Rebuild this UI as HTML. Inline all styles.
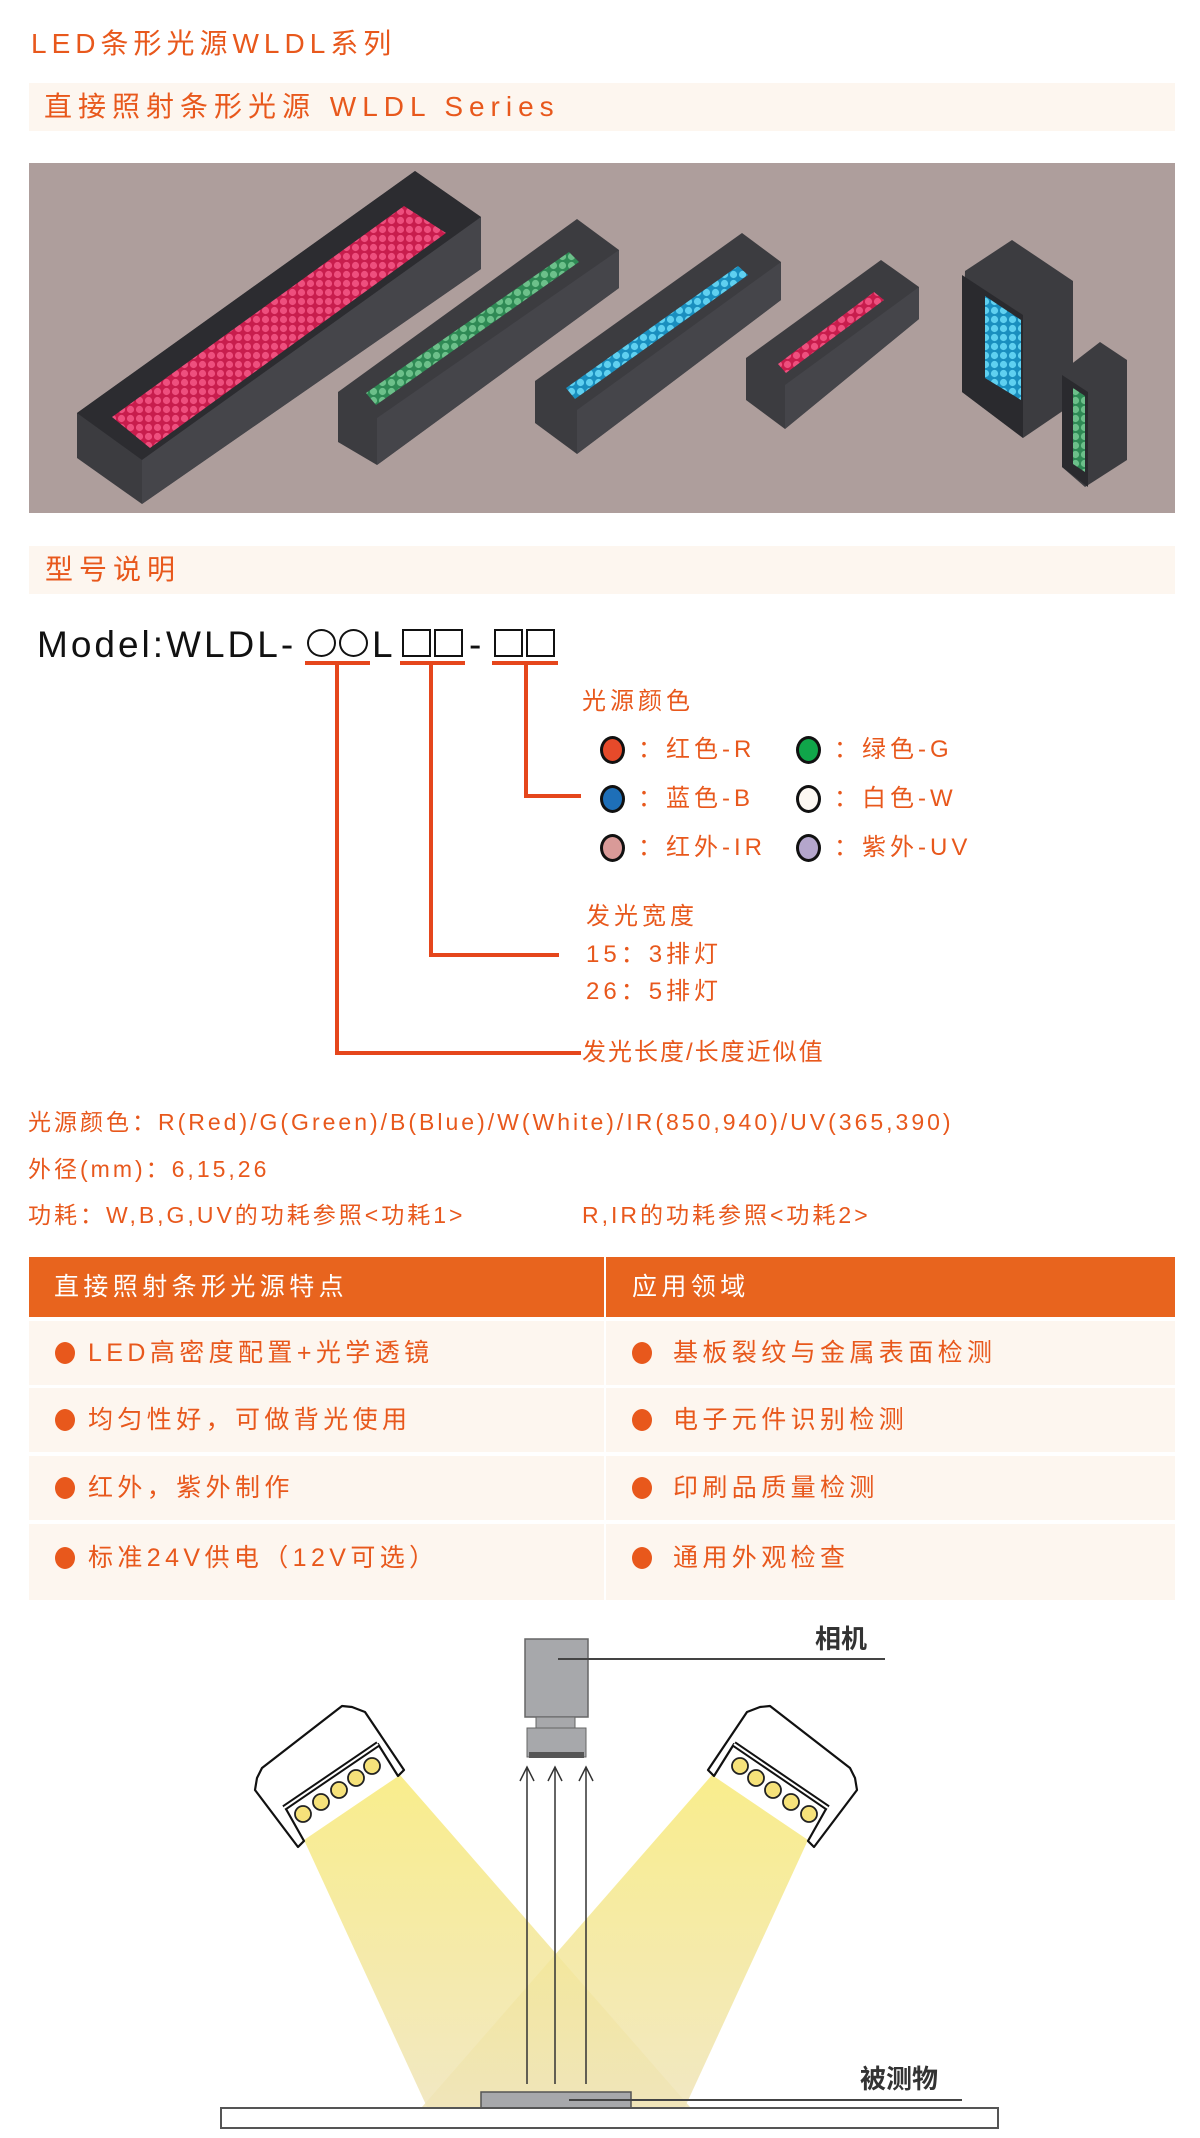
<!DOCTYPE html>
<html><head><meta charset="utf-8">
<style>
*{margin:0;padding:0;box-sizing:border-box}
body{width:1200px;height:2138px;background:#fff;position:relative;overflow:hidden;font-family:"Liberation Sans","Noto Sans CJK SC",sans-serif;color:#e8581c}
.a{position:absolute;white-space:nowrap}
.band{position:absolute;left:29px;width:1146px;background:#fdf6ef}
.bt{font-size:28px;letter-spacing:6px;line-height:1}
.dot{position:absolute;width:25px;height:28px;border:3px solid #111;border-radius:50%}
.lg{font-size:24px;letter-spacing:4px;line-height:1}
.sp{font-size:23px;letter-spacing:3px;line-height:1}
.row{position:absolute;background:#fdf6ef;height:64px}
.tt{font-size:25px;letter-spacing:4.4px;line-height:1}
.bul{position:absolute;width:20px;height:22px;border-radius:50%;background:#e8581c}
.rl{position:absolute;background:#e5461c}
.sh{position:absolute;border:2.5px solid #111;width:29px;height:28px;top:629px}
</style></head><body>

<div class="a" style="left:31px;top:30px;font-size:28px;letter-spacing:5px;line-height:1">LED条形光源WLDL系列</div>

<div class="band" style="top:83px;height:48px"></div>
<div class="a bt" style="left:44px;top:93px">直接照射条形光源 WLDL Series</div>

<svg class="a" style="left:29px;top:163px" width="1146" height="350" viewBox="29 163 1146 350">
<defs>
<pattern id="pr" width="9" height="9" patternUnits="userSpaceOnUse"><rect width="9" height="9" fill="#c81d4d"/><circle cx="4.5" cy="4.5" r="3.6" fill="#ee4f7e"/></pattern>
<pattern id="pg" width="9" height="9" patternUnits="userSpaceOnUse"><rect width="9" height="9" fill="#2f8a55"/><circle cx="4.5" cy="4.5" r="3.6" fill="#6cc08a"/></pattern>
<pattern id="pb" width="9" height="9" patternUnits="userSpaceOnUse"><rect width="9" height="9" fill="#1a8fbf"/><circle cx="4.5" cy="4.5" r="3.6" fill="#5fd0f0"/></pattern>
</defs>
<rect x="29" y="163" width="1146" height="350" fill="#ae9e9c"/>
<polygon points="77,413 415,171 481,217 481,269 142,504 77,458" fill="#3c3c40"/>
<polygon points="77,413 415,171 481,217 142,460" fill="#2c2c30"/>
<polygon points="112,417 404,206 446,233 150,448" fill="url(#pr)"/>
<polygon points="142,460 481,217 481,269 142,504" fill="#45454a"/>
<polygon points="338,392 577,219 619,250 619,288 377,465 338,442" fill="#3c3c40"/>
<polygon points="377,418 619,250 619,288 377,465" fill="#45454a"/>
<polygon points="366,393 569,252 579,262 376,405" fill="url(#pg)"/>
<polygon points="535,381 742,233 781,262 781,300 577,454 535,423" fill="#3c3c40"/>
<polygon points="577,410 781,262 781,300 577,454" fill="#45454a"/>
<polygon points="566,388 738,266 748,275 575,399" fill="url(#pb)"/>
<polygon points="746,358 881,260 919,287 919,319 785,429 746,400" fill="#3c3c40"/>
<polygon points="785,385 919,287 919,319 785,429" fill="#45454a"/>
<polygon points="778,364 874,292 884,300 786,373" fill="url(#pr)"/>
<polygon points="965,271 1012,240 1073,281 1073,404 1023,438 962,392" fill="#3c3c40"/>
<polygon points="962,275 1023,315 1023,438 962,392" fill="#2a2a2e"/>
<polygon points="985,296 1021,320 1021,400 985,378" fill="url(#pb)"/>
<polygon points="1065,369 1100,342 1127,360 1127,460 1085,487 1062,467" fill="#3c3c40"/>
<polygon points="1062,375 1088,392 1088,487 1062,467" fill="#2a2a2e"/>
<polygon points="1073,388 1085,396 1085,472 1073,464" fill="url(#pg)"/>
</svg>

<div class="band" style="top:546px;height:48px"></div>
<div class="a bt" style="left:45px;top:556px">型号说明</div>

<div class="a" style="left:37px;top:626px;font-size:37px;letter-spacing:3px;line-height:1;color:#111">Model:WLDL-</div>
<div class="sh" style="left:307px;border-radius:50%"></div>
<div class="sh" style="left:339px;border-radius:50%"></div>
<div class="a" style="left:372px;top:626px;font-size:37px;line-height:1;color:#111">L</div>
<div class="sh" style="left:402px"></div>
<div class="sh" style="left:434px"></div>
<div class="a" style="left:469px;top:626px;font-size:37px;line-height:1;color:#111">-</div>
<div class="sh" style="left:494px"></div>
<div class="sh" style="left:526px"></div>

<div class="rl" style="left:305px;top:661px;width:65px;height:4px"></div>
<div class="rl" style="left:400px;top:661px;width:65px;height:4px"></div>
<div class="rl" style="left:492px;top:661px;width:66px;height:4px"></div>
<div class="rl" style="left:524px;top:661px;width:4px;height:137px"></div>
<div class="rl" style="left:524px;top:794px;width:57px;height:4px"></div>
<div class="rl" style="left:429px;top:661px;width:4px;height:296px"></div>
<div class="rl" style="left:429px;top:953px;width:130px;height:4px"></div>
<div class="rl" style="left:335px;top:661px;width:4px;height:394px"></div>
<div class="rl" style="left:335px;top:1051px;width:246px;height:4px"></div>

<div class="a lg" style="left:582px;top:690px">光源颜色</div>
<div class="dot" style="left:600px;top:736px;background:#e64a2a"></div>
<div class="a lg" style="left:638px;top:738px">：红色-R</div>
<div class="dot" style="left:796px;top:736px;background:#10a64a"></div>
<div class="a lg" style="left:834px;top:738px">：绿色-G</div>
<div class="dot" style="left:600px;top:785px;background:#1e6fb8"></div>
<div class="a lg" style="left:638px;top:787px">：蓝色-B</div>
<div class="dot" style="left:796px;top:785px;background:#fdf8f2"></div>
<div class="a lg" style="left:834px;top:787px">：白色-W</div>
<div class="dot" style="left:600px;top:834px;background:#d99a98"></div>
<div class="a lg" style="left:638px;top:836px">：红外-IR</div>
<div class="dot" style="left:796px;top:834px;background:#b4a6cc"></div>
<div class="a lg" style="left:834px;top:836px">：紫外-UV</div>

<div class="a lg" style="left:586px;top:905px">发光宽度</div>
<div class="a lg" style="left:586px;top:943px">15：3排灯</div>
<div class="a lg" style="left:586px;top:980px">26：5排灯</div>
<div class="a lg" style="left:582px;top:1041px;letter-spacing:2px">发光长度/长度近似值</div>

<div class="a sp" style="left:28px;top:1111px">光源颜色：R(Red)/G(Green)/B(Blue)/W(White)/IR(850,940)/UV(365,390)</div>
<div class="a sp" style="left:28px;top:1158px">外径(mm)：6,15,26</div>
<div class="a sp" style="left:28px;top:1204px">功耗：W,B,G,UV的功耗参照&lt;功耗1&gt;</div>
<div class="a sp" style="left:582px;top:1204px">R,IR的功耗参照&lt;功耗2&gt;</div>

<div class="a" style="left:29px;top:1257px;width:575px;height:60px;background:#e8641e"></div>
<div class="a" style="left:606px;top:1257px;width:569px;height:60px;background:#e8641e"></div>
<div class="a tt" style="left:54px;top:1275px;color:#fff">直接照射条形光源特点</div>
<div class="a tt" style="left:632px;top:1275px;color:#fff">应用领域</div>

<div class="row" style="left:29px;top:1321px;width:575px"></div>
<div class="row" style="left:606px;top:1321px;width:569px"></div>
<div class="row" style="left:29px;top:1388px;width:575px"></div>
<div class="row" style="left:606px;top:1388px;width:569px"></div>
<div class="row" style="left:29px;top:1456px;width:575px"></div>
<div class="row" style="left:606px;top:1456px;width:569px"></div>
<div class="row" style="left:29px;top:1524px;width:575px;height:76px"></div>
<div class="row" style="left:606px;top:1524px;width:569px;height:76px"></div>

<div class="bul" style="left:55px;top:1342px"></div><div class="a tt" style="left:88px;top:1341px">LED高密度配置+光学透镜</div>
<div class="bul" style="left:632px;top:1342px"></div><div class="a tt" style="left:673px;top:1341px">基板裂纹与金属表面检测</div>
<div class="bul" style="left:55px;top:1409px"></div><div class="a tt" style="left:88px;top:1408px">均匀性好，可做背光使用</div>
<div class="bul" style="left:632px;top:1409px"></div><div class="a tt" style="left:673px;top:1408px">电子元件识别检测</div>
<div class="bul" style="left:55px;top:1477px"></div><div class="a tt" style="left:88px;top:1476px">红外，紫外制作</div>
<div class="bul" style="left:632px;top:1477px"></div><div class="a tt" style="left:673px;top:1476px">印刷品质量检测</div>
<div class="bul" style="left:55px;top:1547px"></div><div class="a tt" style="left:88px;top:1546px">标准24V供电（12V可选）</div>
<div class="bul" style="left:632px;top:1547px"></div><div class="a tt" style="left:673px;top:1546px">通用外观检查</div>

<svg class="a" style="left:0;top:1600px" width="1200" height="538" viewBox="0 1600 1200 538">
<defs>
<linearGradient id="bm" x1="0" y1="0" x2="0" y2="1"><stop offset="0" stop-color="#f8ea78"/><stop offset="1" stop-color="#efe4b8"/></linearGradient>
</defs>
<polygon points="304,1840 400,1775 690,2107 427,2107" fill="url(#bm)" opacity="0.85"/>
<polygon points="808,1840 712,1775 422,2107 685,2107" fill="url(#bm)" opacity="0.85"/>
<rect x="525" y="1639" width="63" height="78" fill="#a7a8ab" stroke="#666" stroke-width="1.5"/>
<rect x="536" y="1717" width="39" height="11" fill="#a7a8ab" stroke="#666" stroke-width="1"/>
<rect x="527" y="1728" width="59" height="29" fill="#a7a8ab" stroke="#666" stroke-width="1"/>
<rect x="529" y="1752" width="55" height="6" fill="#555"/>
<line x1="558" y1="1659" x2="885" y2="1659" stroke="#444" stroke-width="2"/>
<text x="815" y="1648" font-size="26" font-weight="bold" fill="#333" font-family="Liberation Sans, Noto Sans CJK SC, sans-serif">相机</text>
<g stroke="#333" stroke-width="1.5" fill="none">
<line x1="527" y1="2084" x2="527" y2="1767"/><polyline points="520,1781 527,1767 534,1781"/>
<line x1="555" y1="2084" x2="555" y2="1767"/><polyline points="548,1781 555,1767 562,1781"/>
<line x1="586" y1="2084" x2="586" y2="1767"/><polyline points="579,1781 586,1767 593,1781"/>
</g>
<g id="lh">
<polygon points="262,1768 342,1706 352,1707 365,1712 404,1770 398,1776 378,1744 286,1809 304,1841 298,1847 255,1790 257,1778" fill="#fff" stroke="#111" stroke-width="2.2" stroke-linejoin="round"/>
<line x1="378" y1="1744" x2="284" y2="1808" stroke="#111" stroke-width="6"/>
<line x1="378" y1="1744" x2="284" y2="1808" stroke="#fff" stroke-width="2"/>
<g fill="#f6e27a" stroke="#222" stroke-width="1.8">
<circle cx="372" cy="1766" r="8"/><circle cx="356" cy="1778" r="8"/><circle cx="339" cy="1790" r="8"/><circle cx="321" cy="1802" r="8"/><circle cx="303" cy="1814" r="8"/>
</g>
</g>
<use href="#lh" transform="translate(1112,0) scale(-1,1)"/>
<rect x="481" y="2092" width="150" height="16" fill="#a7a8ab" stroke="#555" stroke-width="1.5"/>
<line x1="569" y1="2100" x2="962" y2="2100" stroke="#444" stroke-width="2"/>
<text x="860" y="2088" font-size="26" font-weight="bold" fill="#333" font-family="Liberation Sans, Noto Sans CJK SC, sans-serif">被测物</text>
<rect x="221" y="2108" width="777" height="20" fill="#fff" stroke="#555" stroke-width="2"/>
</svg>
</body></html>
